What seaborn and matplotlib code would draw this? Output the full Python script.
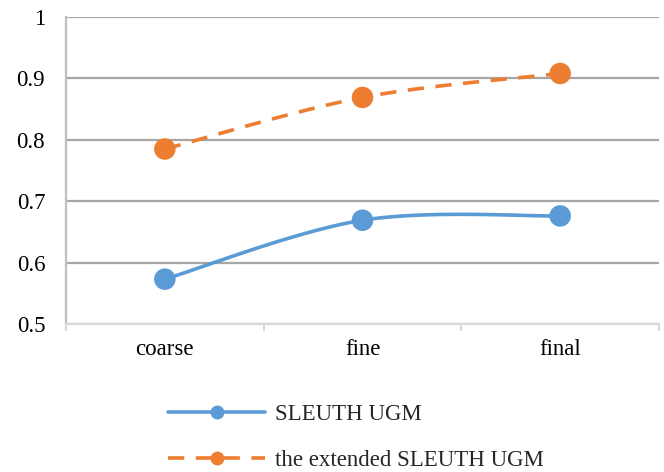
import numpy as np
import pandas as pd
import matplotlib
matplotlib.use("Agg")
import matplotlib.pyplot as plt
from matplotlib.lines import Line2D
import seaborn as sns

categories = ["coarse", "fine", "final"]
sleuth_ugm = [0.573, 0.669, 0.676]
extended_ugm = [0.785, 0.869, 0.908]
series_names = ["SLEUTH UGM", "the extended SLEUTH UGM"]
y_ticks = [0.5, 0.6, 0.7, 0.8, 0.9, 1.0]
y_tick_labels = ["0.5", "0.6", "0.7", "0.8", "0.9", "1"]

BLUE = "#5B9BD5"
ORANGE = "#ED7D31"
FONT_SIZE = 16.5
LINE_W = 2.6
DASH = (4.5, 3.2)

sns.set_theme(style="white")
plt.rcParams["font.family"] = ["Liberation Serif", "DejaVu Serif"]


def smooth(xs, ys, n=60):
    """Cubic Bezier smoothing through every point (spreadsheet-style)."""
    pts = np.column_stack([xs, ys]).astype(float)
    m = len(pts)
    out = []
    for i in range(m - 1):
        p0 = pts[i]
        p3 = pts[i + 1]
        prev = pts[i - 1] if i > 0 else pts[i]
        nxt = pts[i + 2] if i + 2 < m else pts[i + 1]
        p1 = p0 + (p3 - prev) / 6.0
        p2 = p3 - (nxt - p0) / 6.0
        t = np.linspace(0, 1, n)[:, None]
        seg = ((1 - t) ** 3) * p0 + 3 * ((1 - t) ** 2) * t * p1 \
            + 3 * (1 - t) * t ** 2 * p2 + t ** 3 * p3
        out.append(seg if i == 0 else seg[1:])
    return np.vstack(out)


x_pos = np.arange(len(categories))
points = pd.DataFrame({
    "x": np.concatenate([x_pos, x_pos]),
    "value": sleuth_ugm + extended_ugm,
    "series": [series_names[0]] * 3 + [series_names[1]] * 3,
})

curves = []
for name, vals in zip(series_names, [sleuth_ugm, extended_ugm]):
    c = smooth(x_pos, vals)
    curves.append(pd.DataFrame({"x": c[:, 0], "value": c[:, 1], "series": name}))
curves = pd.concat(curves, ignore_index=True)

fig = plt.figure(figsize=(6.64, 4.72), dpi=100)
ax = fig.add_axes([66 / 664, 1 - 324 / 472, (659 - 66) / 664, (324 - 17) / 472])

palette = {series_names[0]: BLUE, series_names[1]: ORANGE}
dash_style = {series_names[0]: "", series_names[1]: DASH}

sns.lineplot(data=curves, x="x", y="value", hue="series", style="series",
             palette=palette, dashes=dash_style, sort=False, estimator=None,
             linewidth=LINE_W, legend=False, ax=ax, zorder=3)
sns.scatterplot(data=points, x="x", y="value", hue="series", palette=palette,
                s=240, edgecolor="none", legend=False, ax=ax, zorder=4)

ax.set_xlim(-0.5, 2.5)
ax.set_ylim(0.5, 1.0)
ax.set_xlabel("")
ax.set_ylabel("")

ax.set_yticks(y_ticks)
ax.set_yticklabels(y_tick_labels)
ax.set_xticks(x_pos)
ax.set_xticklabels(categories)
ax.set_xticks([-0.5, 0.5, 1.5, 2.5], minor=True)

ax.tick_params(axis="y", length=0, pad=15, labelsize=FONT_SIZE, labelcolor="black")
ax.tick_params(axis="x", which="major", length=0, pad=11, labelsize=FONT_SIZE, labelcolor="black")
ax.tick_params(axis="x", which="minor", length=5, width=1.5, color="#D9D9D9", bottom=True)

ax.grid(axis="y", color="#A6A6A6", linewidth=1.6, zorder=1)
ax.set_axisbelow(True)

for side in ["top", "right"]:
    ax.spines[side].set_visible(False)
ax.spines["left"].set_color("#BFBFBF")
ax.spines["left"].set_linewidth(1.6)
ax.spines["bottom"].set_color("#D9D9D9")
ax.spines["bottom"].set_linewidth(1.6)

handles = [
    Line2D([0], [0], color=BLUE, linewidth=LINE_W, marker="o", markersize=10,
           markeredgewidth=0),
    Line2D([0], [0], color=ORANGE, linewidth=LINE_W, linestyle=(0, DASH),
           marker="o", markersize=10, markeredgewidth=0),
]
fig.legend(handles, series_names, loc="upper left",
           bbox_to_anchor=(157 / 664, 1 - 393 / 472), frameon=False,
           fontsize=FONT_SIZE, handlelength=4.2, handletextpad=0.45,
           labelspacing=1.08, borderpad=0, numpoints=1)

fig.savefig("out.png", dpi=100, facecolor="white")
